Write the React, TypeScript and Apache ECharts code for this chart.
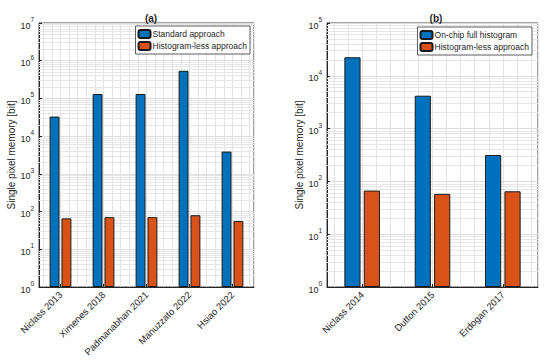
import React, { useEffect, useRef } from "react";
import * as echarts from "echarts";

const catsA = ["Niclass 2013", "Ximenes 2018", "Padmanabhan 2021", "Manuzzato 2022", "Hsiao 2022"];
const standardA = [33000, 131000, 131000, 540000, 3900];
const histLessA = [66, 71, 71, 80, 56];

const catsB = ["Niclass 2014", "Dutton 2015", "Erdogan 2017"];
const fullHistB = [22400, 4200, 316];
const histLessB = [67, 58, 65];

const FONT = "Liberation Sans";
const TXT = "#262626";
const BLUE = "#0072BD";
const ORANGE = "#D95319";

function minorLines(decades: number) {
  const out: any[] = [];
  for (let k = 0; k < decades; k++) {
    for (let m = 2; m <= 9; m++) out.push({ yAxis: m * Math.pow(10, k) });
  }
  return out;
}

function yAxisCfg(gridIndex: number, max: number, decades: number) {
  return {
    type: "log",
    gridIndex,
    logBase: 10,
    min: 1,
    max,
    splitNumber: decades,
    name: "Single pixel memory [bit]",
    nameLocation: "middle",
    nameGap: 21,
    nameTextStyle: { fontFamily: FONT, fontSize: 10, color: TXT },
    axisLine: { show: true, lineStyle: { color: TXT, width: 1 } },
    axisTick: { show: true, inside: true, length: 3, lineStyle: { color: TXT } },
    axisLabel: {
      margin: 5,
      color: TXT,
      fontFamily: FONT,
      formatter: (v: number) => `{b|10}{s|${Math.round(Math.log10(v))}}`,
      rich: {
        b: { fontSize: 9, fontFamily: FONT, color: TXT, lineHeight: 14, verticalAlign: "bottom" },
        s: { fontSize: 6.5, fontFamily: FONT, color: TXT, lineHeight: 14, verticalAlign: "top" },
      },
    },
    splitLine: { show: true, lineStyle: { color: "#dcdcdc", width: 1 } },
  };
}

function catAxisCfg(gridIndex: number, data: string[]) {
  return {
    type: "category",
    gridIndex,
    data,
    axisLine: { show: true, lineStyle: { color: TXT, width: 1 } },
    axisTick: { show: true, inside: true, alignWithLabel: true, length: 3, lineStyle: { color: TXT } },
    axisLabel: {
      interval: 0,
      rotate: 45,
      margin: 6,
      fontSize: 9.5,
      fontFamily: FONT,
      color: TXT,
    },
    splitLine: { show: false },
  };
}

function gridXCfg(gridIndex: number, n: number) {
  return {
    type: "value",
    gridIndex,
    min: 0.5,
    max: n + 0.5,
    splitNumber: n,
    show: true,
    axisLine: { show: false },
    axisTick: { show: false },
    axisLabel: { show: false },
    splitLine: { show: true, lineStyle: { color: "#e3e3e3", width: 1 } },
    minorTick: { show: false, splitNumber: 5 },
    minorSplitLine: { show: true, lineStyle: { color: "#e3e3e3", width: 1 } },
  };
}

function barSeries(name: string, data: number[], color: string, xi: number, yi: number, mark?: number) {
  const s: any = {
    type: "bar",
    name,
    data,
    xAxisIndex: xi,
    yAxisIndex: yi,
    barWidth: "23%",
    barGap: "20%",
    z: 3,
    itemStyle: { color, borderColor: "#1a1a1a", borderWidth: 1 },
  };
  if (mark) {
    s.markLine = {
      z: 1,
      silent: true,
      symbol: ["none", "none"],
      label: { show: false },
      lineStyle: { color: "#e6e6e6", type: "solid", width: 1 },
      data: minorLines(mark),
    };
  }
  return s;
}

export default function App() {
  const ref = useRef<HTMLDivElement>(null);
  useEffect(() => {
    if (!ref.current) return;
    const chart = echarts.init(ref.current, undefined, { renderer: "svg" });
    const legendCommon = {
      orient: "vertical",
      itemWidth: 12,
      itemHeight: 8,
      itemGap: 2,
      padding: [3, 3, 3, 2],
      backgroundColor: "#fff",
      borderColor: "#333",
      borderWidth: 0.8,
      borderRadius: 0,
      textStyle: { fontFamily: FONT, fontSize: 8.5, color: TXT, padding: [0, 0, 0, -3] },
    };
    chart.setOption({
      animation: false,
      backgroundColor: "#fff",
      title: [
        {
          text: "(a)",
          left: 146,
          top: 8,
          textAlign: "center",
          textStyle: { fontFamily: FONT, fontSize: 10, fontWeight: "bold", color: TXT },
        },
        {
          text: "(b)",
          left: 431,
          top: 8,
          textAlign: "center",
          textStyle: { fontFamily: FONT, fontSize: 10, fontWeight: "bold", color: TXT },
        },
      ],
      legend: [
        { ...legendCommon, right: 304, top: 26, data: ["Standard approach", "Histogram-less approach"] },
        { ...legendCommon, right: 22, top: 27, data: ["On-chip full histogram", "Histogram-less approach"] },
      ],
      grid: [
        { left: 39, top: 23, width: 215, height: 264, show: true, borderColor: "#444", borderWidth: 1, backgroundColor: "#fff" },
        { left: 327, top: 23, width: 211, height: 264, show: true, borderColor: "#444", borderWidth: 1, backgroundColor: "#fff" },
      ],
      xAxis: [catAxisCfg(0, catsA), gridXCfg(0, catsA.length), catAxisCfg(1, catsB), gridXCfg(1, catsB.length)],
      yAxis: [yAxisCfg(0, 1e7, 7), yAxisCfg(1, 1e5, 5)],
      series: [
        barSeries("Standard approach", standardA, BLUE, 0, 0, 7),
        barSeries("Histogram-less approach", histLessA, ORANGE, 0, 0),
        barSeries("On-chip full histogram", fullHistB, BLUE, 2, 1, 5),
        barSeries("Histogram-less approach", histLessB, ORANGE, 2, 1),
      ],
    });
    return () => chart.dispose();
  }, []);
  return (
    <div
      ref={ref}
      style={{ position: "fixed", left: 0, top: 0, width: 554, height: 361, background: "#fff" }}
    />
  );
}
